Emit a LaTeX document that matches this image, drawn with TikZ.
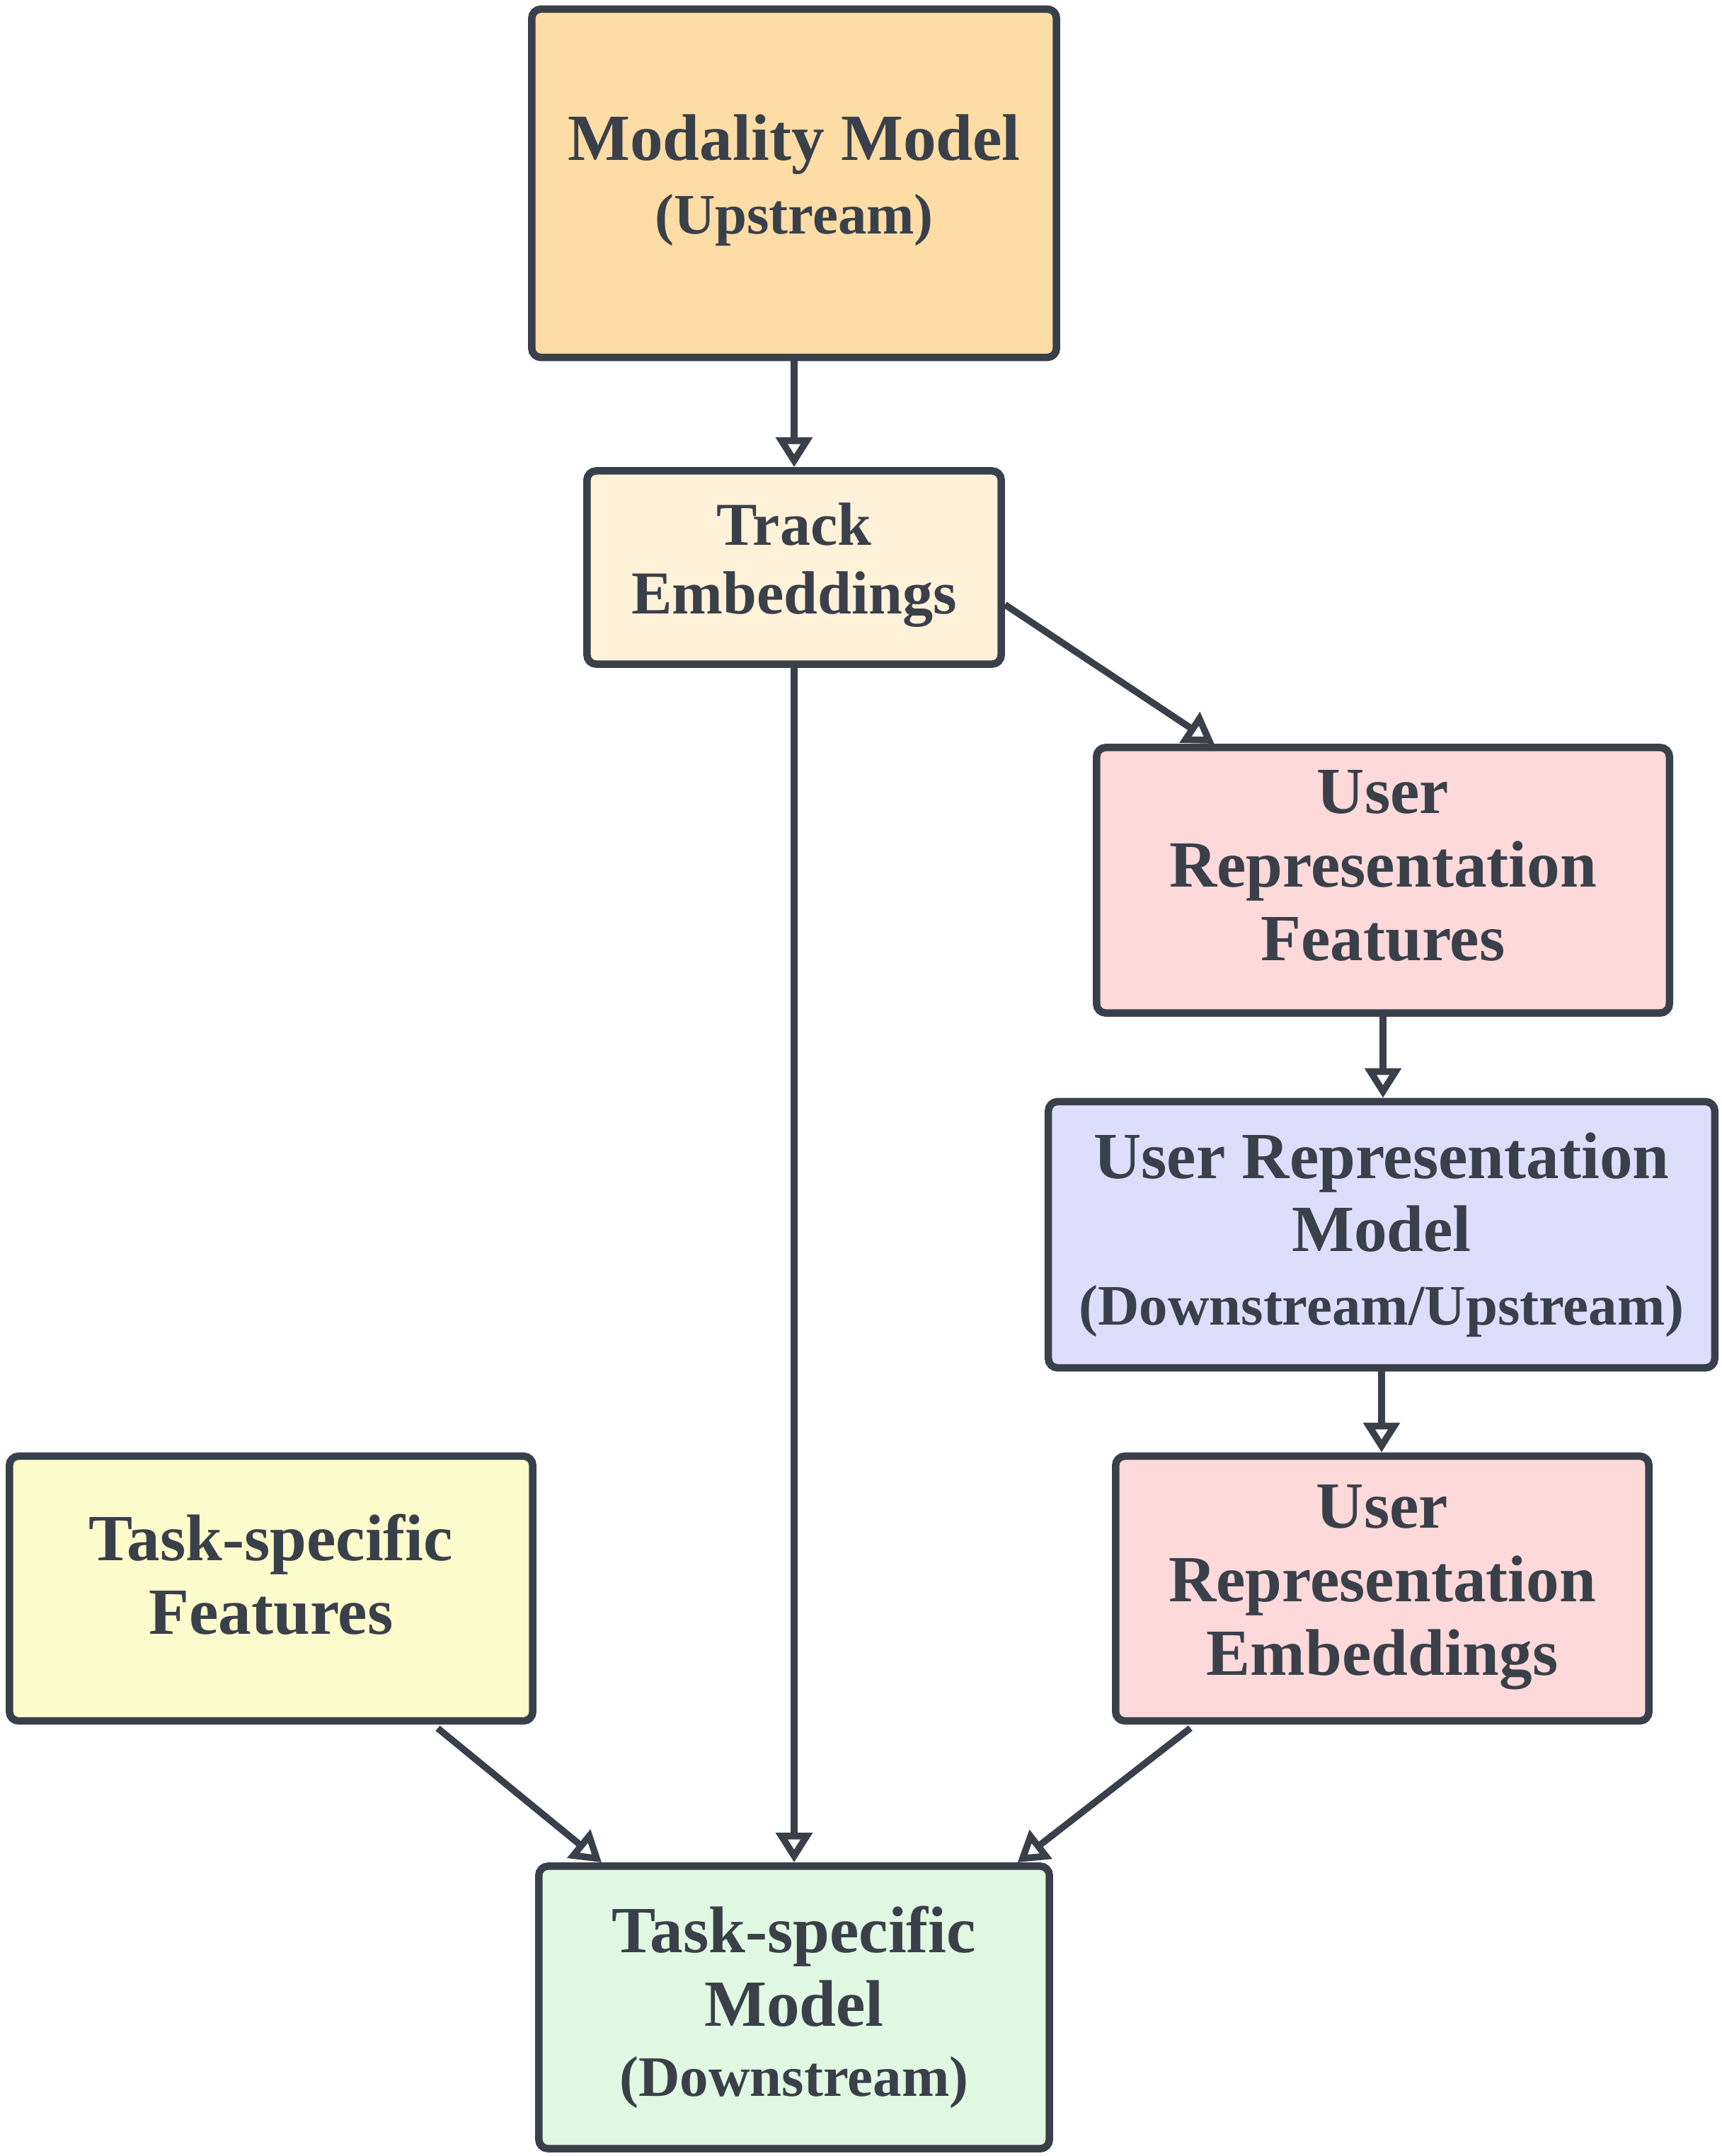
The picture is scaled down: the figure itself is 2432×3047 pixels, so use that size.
\documentclass[tikz,border=0pt]{standalone}
\usepackage{fontspec}
\setmainfont{Liberation Serif}
\usetikzlibrary{arrows.meta}
\definecolor{ink}{HTML}{3A404A}
\definecolor{cOrange}{HTML}{FDDCA6}
\definecolor{cCream}{HTML}{FFF2D9}
\definecolor{cPink}{HTML}{FED9DA}
\definecolor{cLav}{HTML}{DEDEFC}
\definecolor{cYellow}{HTML}{FCFBCC}
\definecolor{cGreen}{HTML}{E1F8E2}
\newcommand{\subt}[1]{{\fontsize{23}{28}\selectfont #1}}
\newcommand{\lift}[1]{\rule[-#1]{0pt}{#1}}
\begin{document}
\begin{tikzpicture}[x=0.01cm,y=-0.01cm,
  box/.style={draw=ink, line width=0.105cm, rounded corners=0.13cm, align=center,
    text=ink, inner sep=0pt, font=\fontsize{26.5}{29.5}\selectfont\bfseries},
  conn/.style={draw=ink, line width=0.095cm, -{Triangle[open,length=0.42cm,width=0.5cm]}}]
\useasboundingbox (0,0) rectangle (2432,3047);

\node[box, fill=cOrange, minimum width=7.41cm, minimum height=4.92cm] (mm) at (1122,259)
  {Modality Model\\ \subt{(Upstream)\lift{0.26cm}}};
\node[box, fill=cCream, minimum width=5.85cm, minimum height=2.73cm,
  font=\fontsize{24.5}{27.5}\selectfont\bfseries] (te) at (1122,802)
  {Track\\ Embeddings\lift{0.26cm}};
\node[box, fill=cPink, minimum width=8.09cm, minimum height=3.75cm] (urf) at (1954,1244)
  {User\\ Representation\\ Features\lift{0.42cm}};
\node[box, fill=cLav, minimum width=9.41cm, minimum height=3.76cm] (urm) at (1952,1745)
  {User Representation\\ Model\\ \subt{(Downstream/Upstream)}};
\node[box, fill=cPink, minimum width=7.53cm, minimum height=3.74cm] (ure) at (1953,2245)
  {User\\ Representation\\ Embeddings\lift{0.24cm}};
\node[box, fill=cYellow, minimum width=7.39cm, minimum height=3.74cm] (tsf) at (383,2245)
  {Task-specific\\ Features\lift{0.4cm}};
\node[box, fill=cGreen, minimum width=7.21cm, minimum height=3.99cm] (tm) at (1122,2837)
  {Task-specific\\ Model\\[-0.04cm] \subt{(Downstream)}};

\draw[conn] (mm.south) -- (te.north);
\draw[conn] (te.-10) -- (urf.141);
\draw[conn] (te.south) -- (tm.north);
\draw[conn] (urf.south) -- (urf.south |- urm.north);
\draw[conn] (urm.south) -- (urm.south |- ure.north);
\draw[conn, shorten <=0.08cm] (tsf.-40) -- (tm.143);
\draw[conn, shorten <=0.08cm] (ure.216) -- (tm.33);
\end{tikzpicture}
\end{document}
